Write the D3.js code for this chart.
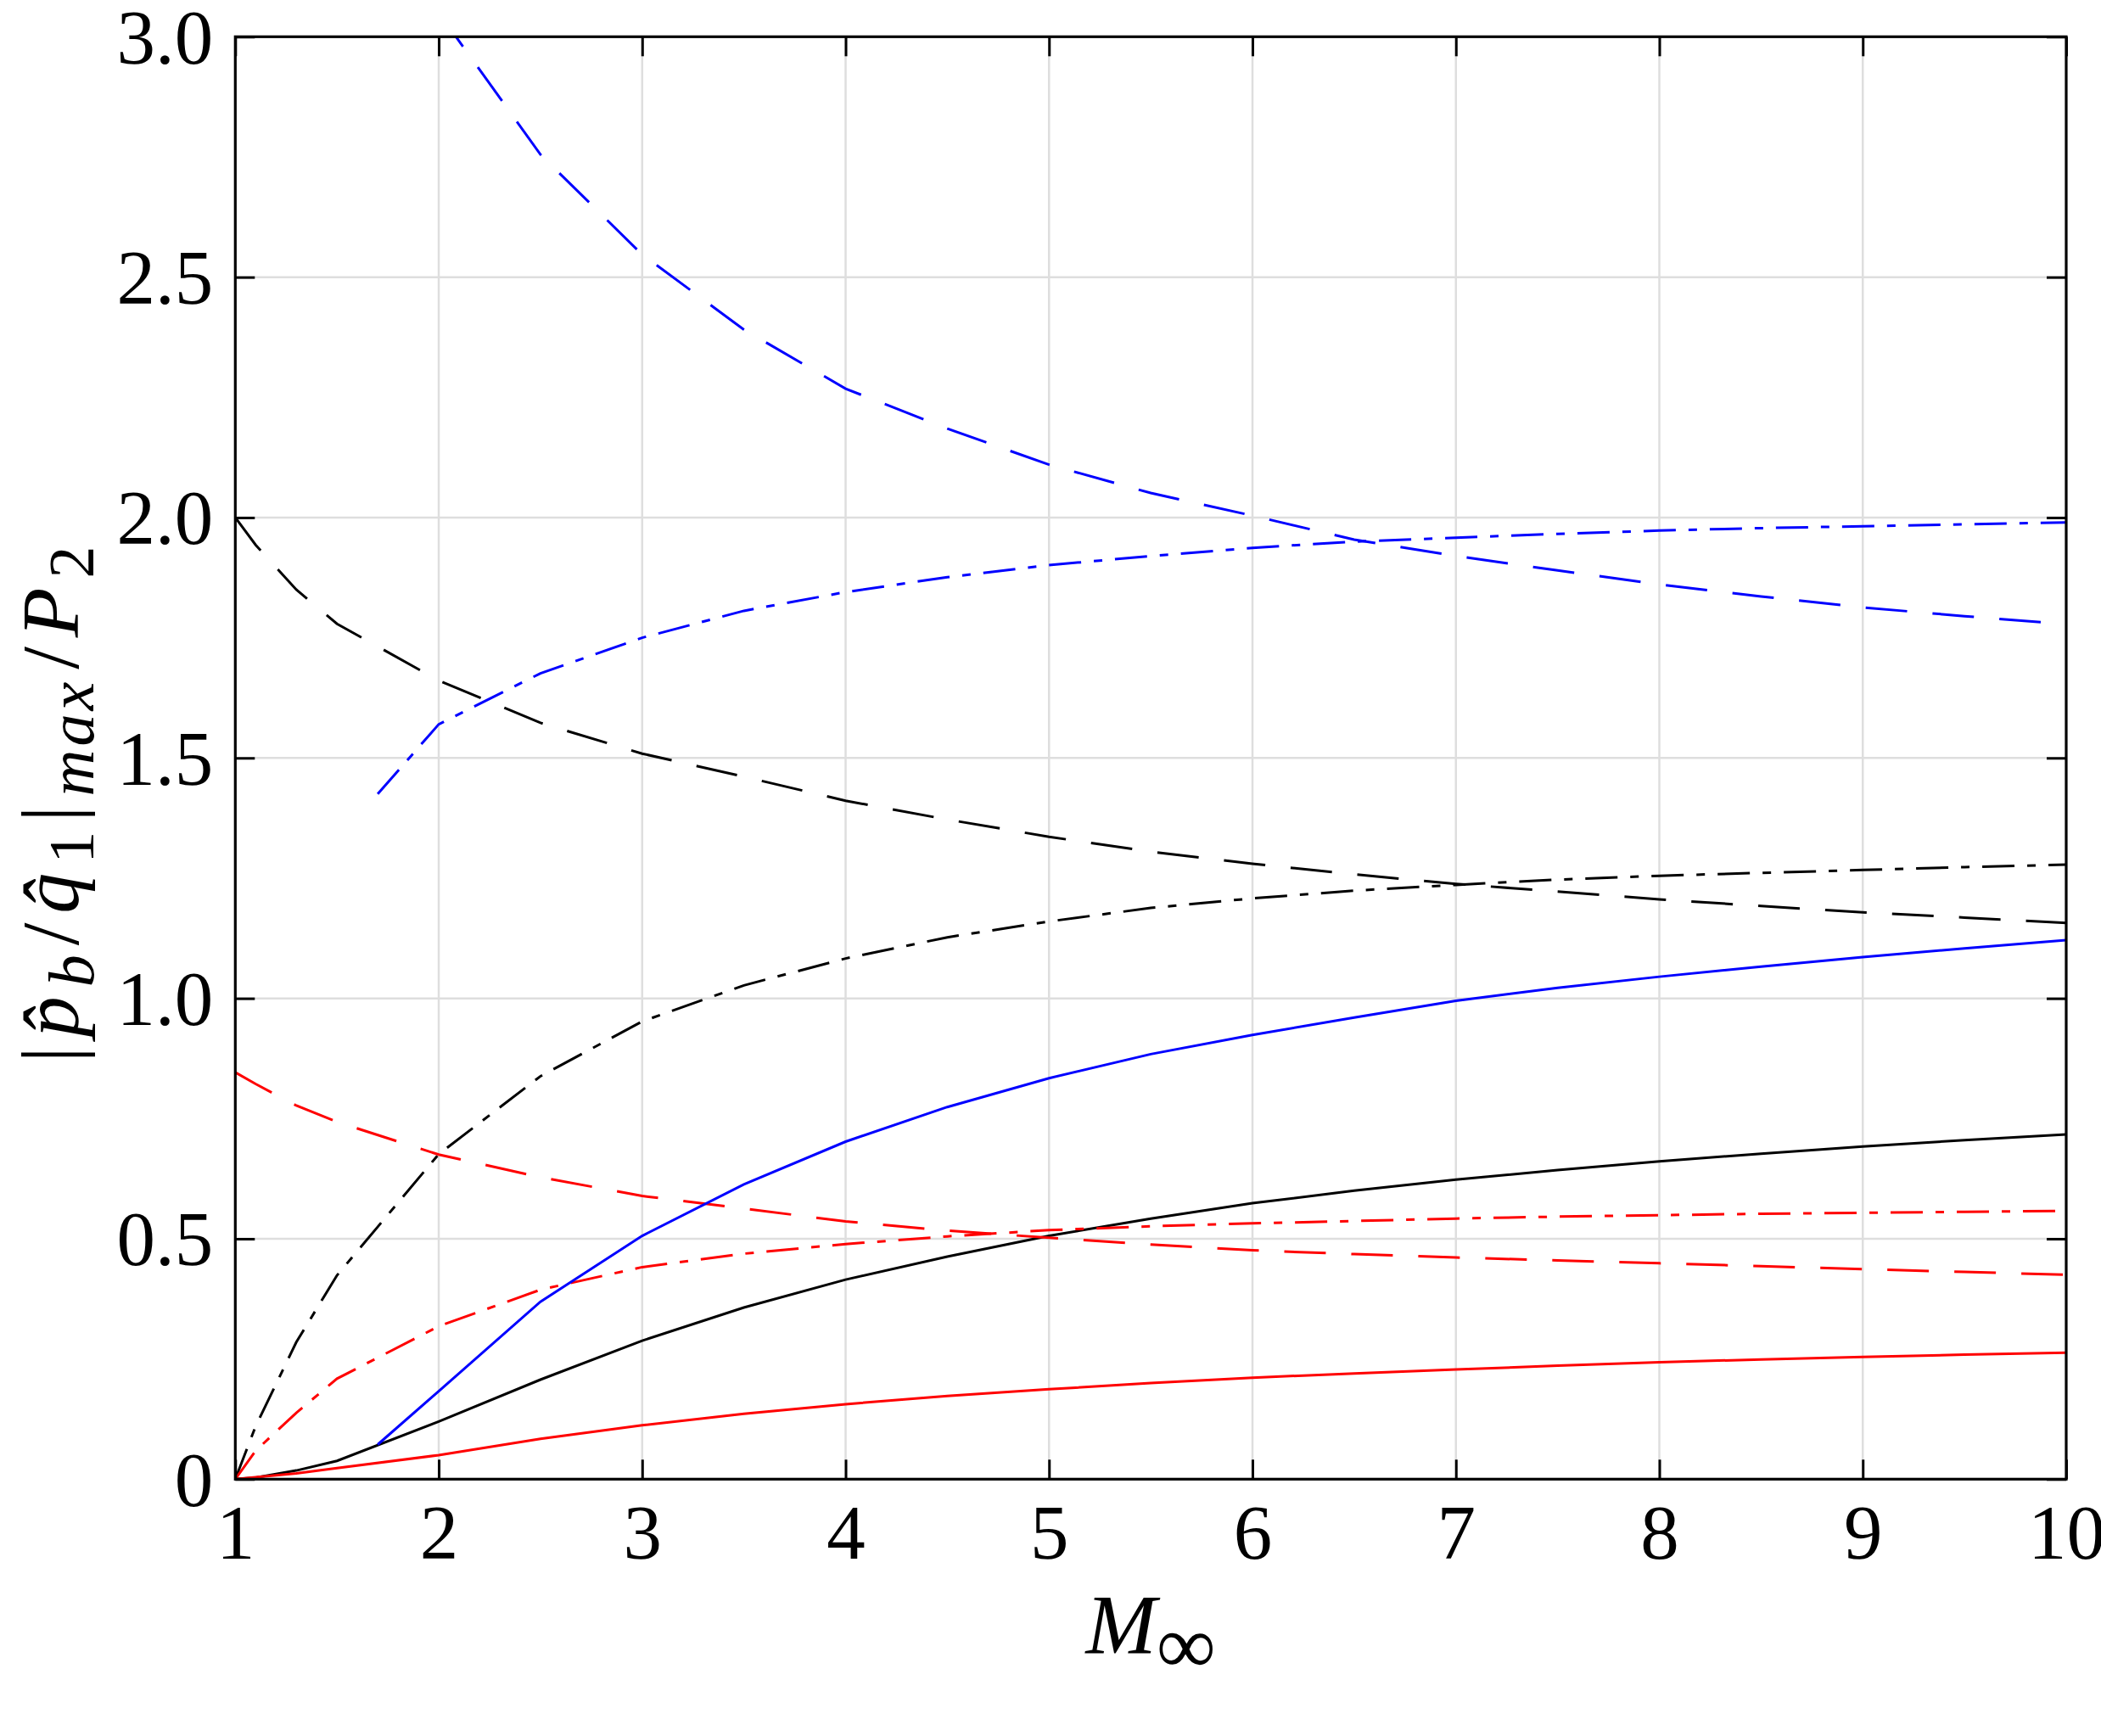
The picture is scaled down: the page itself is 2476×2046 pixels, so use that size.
<!DOCTYPE html>
<html>
<head>
<meta charset="utf-8">
<script src="https://cdn.jsdelivr.net/npm/d3@7"></script>
<style>
  html, body { margin: 0; padding: 0; background: #fff; }
  #chart { width: 2476px; height: 2046px; }
  text { font-family: "Liberation Serif", "Times New Roman", serif; }
</style>
</head>
<body>
<div id="chart"></div>
<script>
var machA = [1, 1.1, 1.3, 1.5, 2, 2.5, 3, 3.5, 4, 4.5, 5, 5.5, 6, 6.5, 7, 7.5, 8, 8.5, 9, 9.5, 10];
var machB = [1.7, 2, 2.5, 3, 3.5, 4, 4.5, 5, 5.5, 6, 6.5, 7, 7.5, 8, 8.5, 9, 9.5, 10];

var blackSolid   = [0, 0.003, 0.018, 0.038, 0.12, 0.207, 0.288, 0.357, 0.415, 0.463, 0.506, 0.542, 0.574, 0.6, 0.623, 0.643, 0.661, 0.677, 0.692, 0.705, 0.717];
var blackDashed  = [2.0, 1.943, 1.85, 1.779, 1.661, 1.573, 1.509, 1.461, 1.411, 1.372, 1.336, 1.305, 1.28, 1.258, 1.238, 1.222, 1.206, 1.192, 1.179, 1.168, 1.157];
var blackDashDot = [0, 0.11, 0.285, 0.424, 0.676, 0.838, 0.952, 1.027, 1.083, 1.127, 1.16, 1.188, 1.208, 1.224, 1.236, 1.247, 1.255, 1.261, 1.267, 1.273, 1.278];

var redSolid   = [0, 0.004, 0.012, 0.023, 0.05, 0.084, 0.112, 0.136, 0.156, 0.173, 0.187, 0.2, 0.211, 0.22, 0.228, 0.236, 0.243, 0.249, 0.254, 0.259, 0.263];
var redDashed  = [0.846, 0.822, 0.777, 0.743, 0.675, 0.628, 0.589, 0.563, 0.536, 0.517, 0.502, 0.488, 0.476, 0.468, 0.461, 0.455, 0.449, 0.443, 0.437, 0.431, 0.425];
var redDashDot = [0, 0.059, 0.138, 0.209, 0.318, 0.394, 0.441, 0.469, 0.489, 0.505, 0.518, 0.526, 0.532, 0.537, 0.542, 0.546, 0.549, 0.552, 0.554, 0.556, 0.558];

var blueSolid   = [0.072, 0.183, 0.369, 0.506, 0.613, 0.702, 0.774, 0.834, 0.884, 0.924, 0.96, 0.995, 1.022, 1.045, 1.066, 1.086, 1.104, 1.121];
var blueDashed  = [null, 3.05, 2.755, 2.547, 2.391, 2.268, 2.185, 2.11, 2.051, 2.004, 1.954, 1.92, 1.89, 1.861, 1.836, 1.813, 1.795, 1.778];
var blueDashDot = [1.425, 1.57, 1.676, 1.75, 1.806, 1.845, 1.876, 1.901, 1.92, 1.937, 1.95, 1.958, 1.966, 1.973, 1.978, 1.982, 1.986, 1.99];

var xTicks = [1, 2, 3, 4, 5, 6, 7, 8, 9, 10];
var yTicks = [0, 0.5, 1.0, 1.5, 2.0, 2.5, 3.0];

var series = [
  {mach: machA, vals: blackSolid,   color: "#000000", dash: null},
  {mach: machA, vals: blackDashed,  color: "#000000", dash: "49,30"},
  {mach: machA, vals: blackDashDot, color: "#000000", dash: "38,15,10,15"},
  {mach: machA, vals: redSolid,     color: "#ff0000", dash: null},
  {mach: machA, vals: redDashed,    color: "#ff0000", dash: "49,30"},
  {mach: machA, vals: redDashDot,   color: "#ff0000", dash: "38,15,10,15"},
  {mach: machB, vals: blueSolid,    color: "#0000ff", dash: null},
  {mach: machB, vals: blueDashed,   color: "#0000ff", dash: "49,30"},
  {mach: machB, vals: blueDashDot,  color: "#0000ff", dash: "38,15,10,15"}
];

var W = 2476, H = 2046;
var margin = {left: 277.3, top: 43.3, right: 41, bottom: 302.7};
var width = W - margin.left - margin.right;
var height = H - margin.top - margin.bottom;

var svg = d3.select("#chart").append("svg")
    .attr("width", W)
    .attr("height", H);

var g = svg.append("g")
    .attr("transform", "translate(" + margin.left + "," + margin.top + ")");

var x = d3.scaleLinear().domain([1, 10]).range([0, width]);
var y = d3.scaleLinear().domain([0, 3]).range([height, 0]);

g.append("clipPath").attr("id", "clip")
  .append("rect").attr("width", width).attr("height", height);

// grid
g.append("g").selectAll("line.gx")
    .data(xTicks.slice(1, -1))
    .enter().append("line")
    .attr("x1", function(d) { return x(d); })
    .attr("x2", function(d) { return x(d); })
    .attr("y1", 0).attr("y2", height)
    .attr("stroke", "#dedede").attr("stroke-width", 2.5);

g.append("g").selectAll("line.gy")
    .data(yTicks.slice(1, -1))
    .enter().append("line")
    .attr("y1", function(d) { return y(d); })
    .attr("y2", function(d) { return y(d); })
    .attr("x1", 0).attr("x2", width)
    .attr("stroke", "#dedede").attr("stroke-width", 2.5);

var line = d3.line()
    .defined(function(d) { return d[1] != null; })
    .x(function(d) { return x(d[0]); })
    .y(function(d) { return y(d[1]); });

g.append("g").attr("clip-path", "url(#clip)")
  .selectAll("path")
    .data(series)
    .enter().append("path")
    .attr("d", function(s) { return line(s.mach.map(function(m, i) { return [m, s.vals[i]]; })); })
    .attr("fill", "none")
    .attr("stroke", function(s) { return s.color; })
    .attr("stroke-width", 3)
    .attr("stroke-dasharray", function(s) { return s.dash; });

// axes, ticks inward on all sides
var tickLen = 23;
var fmtY = function(d) { return d === 0 ? "0" : d3.format(".1f")(d); };

var axBottom = g.append("g").attr("transform", "translate(0," + height + ")")
    .call(d3.axisBottom(x).tickValues(xTicks).tickSize(-tickLen).tickPadding(29).tickSizeOuter(0));
var axTop = g.append("g")
    .call(d3.axisTop(x).tickValues(xTicks).tickSize(-tickLen).tickFormat("").tickSizeOuter(0));
var axLeft = g.append("g")
    .call(d3.axisLeft(y).tickValues(yTicks).tickSize(-tickLen).tickPadding(26).tickFormat(fmtY).tickSizeOuter(0));
var axRight = g.append("g").attr("transform", "translate(" + width + ",0)")
    .call(d3.axisRight(y).tickValues(yTicks).tickSize(-tickLen).tickFormat("").tickSizeOuter(0));

[axBottom, axTop, axLeft, axRight].forEach(function(a) {
  a.select(".domain").remove();
  a.selectAll(".tick line").attr("stroke", "#000").attr("stroke-width", 3);
  a.selectAll("text").attr("fill", "#000").style("font-size", "91px")
    .style("font-family", "'Liberation Serif', serif");
});
axBottom.selectAll("text").attr("dy", "0.71em");
axLeft.selectAll("text").attr("dy", "0.34em");

g.append("rect")
    .attr("width", width).attr("height", height)
    .attr("fill", "none").attr("stroke", "#000").attr("stroke-width", 3.2);

// x label
var xl = svg.append("text")
    .attr("x", margin.left + width / 2)
    .attr("y", 1948)
    .attr("text-anchor", "middle")
    .style("font-size", "100px");
xl.append("tspan").style("font-style", "italic").text("M");
xl.append("tspan").attr("dy", 24).style("font-size", "98px").text("\u221e");

// y label, spaced out a little like typeset math
var yl = svg.append("text")
    .attr("transform", "translate(92,948) rotate(-90)")
    .attr("text-anchor", "middle")
    .style("font-size", "96px");
var sub = 18, gap = 11;
yl.append("tspan").text("|");
yl.append("tspan").attr("dx", gap).style("font-style", "italic").text("p\u0302");
yl.append("tspan").attr("dx", gap).attr("dy", sub).style("font-style", "italic").style("font-size", "76px").text("b");
yl.append("tspan").attr("dx", gap).attr("dy", -sub).text("/");
yl.append("tspan").attr("dx", gap).style("font-style", "italic").text("q\u0302");
yl.append("tspan").attr("dx", gap).attr("dy", sub).style("font-size", "76px").text("1");
yl.append("tspan").attr("dx", gap).attr("dy", -sub).text("|");
yl.append("tspan").attr("dx", gap).attr("dy", sub).style("font-style", "italic").style("font-size", "76px")
    .style("letter-spacing", "4px").text("max");
yl.append("tspan").attr("dx", gap).attr("dy", -sub).text("/");
yl.append("tspan").attr("dx", gap).style("font-style", "italic").text("P");
yl.append("tspan").attr("dx", gap).attr("dy", sub).style("font-size", "76px").text("2");
</script>
</body>
</html>
